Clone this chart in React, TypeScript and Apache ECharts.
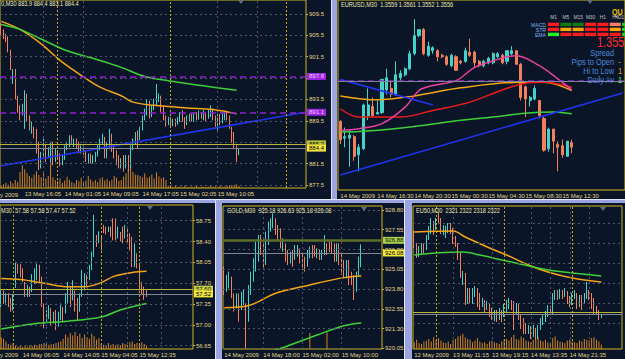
import React, { useEffect, useRef } from "react";
import * as echarts from "echarts";

const BG = "#0a1628";
const BULL = "#43d3c9";
const BEAR = "#f47f5c";
const AXIS = "#d4b41c";
const TXT = "#e6d38a";
const TITLE = "#efe6b4";
const GRIDC = "#4a5869";
const SEP = "#c9a61a";
const ORANGE = "#f5a516";
const GREEN = "#3fcf3a";
const PINK = "#e8409e";
const RED = "#ee1c1c";
const BLUE = "#2233ee";
const PURPLE = "#8c22cc";
const ASKC = "#b7b63a";
const BIDC = "#7f8792";
const VOLC = "#d6821e";
const FRAME = "#9ba4de";
const FRAME_HI = "#e2e5f8";
const FONT = "'Liberation Sans', Arial, sans-serif";
const FS = 6;

// ---------------- Panel 1 (top-left) ----------------
const p1Title = "0,M30 883.9 884.4 883.1 884.4";
const p1Bars = [
  [907.2, 906.0, 905.6, 907.8], [906.2, 905.3, 904.8, 906.6], [905.4, 904.6, 904.2, 905.8], [905.1, 902.6, 902.3, 905.3],
  [902.6, 899.5, 899.0, 902.8], [897.3, 898.9, 896.4, 899.2], [898.9, 893.9, 893.5, 899.2], [893.9, 891.5, 891.0, 894.2],
  [892.1, 890.2, 889.6, 892.4], [890.8, 892.1, 890.5, 892.7], [888.4, 894.6, 888.0, 895.2], [894.2, 889.6, 889.3, 894.6],
  [890.2, 888.0, 887.7, 890.5], [887.4, 889.0, 887.1, 889.3], [888.0, 886.5, 886.2, 888.4], [887.7, 884.6, 883.4, 888.0],
  [885.3, 880.9, 880.3, 885.6], [880.9, 883.4, 880.6, 883.7], [882.8, 885.3, 882.5, 886.2], [884.6, 882.2, 881.8, 885.0],
  [882.8, 884.3, 882.5, 884.6], [882.2, 885.3, 881.8, 885.6], [885.3, 881.5, 881.2, 885.6], [882.2, 884.0, 881.8, 884.3],
  [883.7, 882.5, 882.2, 884.0], [883.1, 881.4, 881.0, 883.4], [881.5, 882.8, 881.2, 883.1], [882.5, 884.6, 882.2, 884.9],
  [884.3, 885.3, 884.0, 885.6], [884.9, 886.5, 884.6, 886.8], [886.5, 885.3, 885.0, 886.8], [884.9, 885.9, 884.6, 886.2],
  [885.9, 884.6, 884.3, 886.2], [885.3, 883.7, 883.4, 885.6], [883.7, 884.6, 883.4, 884.9], [884.6, 883.4, 883.1, 884.9],
  [883.7, 882.2, 881.8, 884.0], [881.8, 883.1, 881.5, 883.4], [883.1, 881.8, 881.5, 883.4], [881.8, 882.8, 881.5, 883.1],
  [882.2, 883.4, 881.8, 883.7], [883.1, 884.6, 882.8, 884.9], [884.3, 885.9, 884.0, 886.2], [885.3, 886.8, 885.0, 887.1],
  [886.2, 882.8, 882.5, 886.5], [882.8, 885.3, 882.5, 885.6], [884.6, 886.8, 884.3, 888.0], [886.8, 884.0, 883.7, 887.1],
  [884.6, 882.8, 882.5, 884.9], [883.7, 881.5, 881.2, 884.0], [882.8, 880.9, 880.6, 883.1], [880.9, 882.2, 880.6, 882.5],
  [882.8, 880.6, 880.0, 883.1], [880.9, 882.8, 880.6, 883.1], [882.8, 880.9, 880.0, 883.1], [880.9, 884.6, 880.6, 884.9],
  [884.3, 885.9, 884.0, 886.2], [885.3, 887.1, 885.0, 887.4], [887.4, 884.6, 884.3, 887.7], [886.2, 888.0, 885.9, 888.4],
  [888.0, 890.2, 887.7, 890.5], [889.9, 891.5, 889.6, 891.8], [890.8, 892.7, 890.5, 893.6], [893.0, 890.2, 889.9, 893.3],
  [890.5, 892.1, 890.2, 892.4], [891.8, 893.3, 891.5, 893.6], [892.7, 893.9, 892.4, 896.4], [893.3, 894.2, 893.0, 894.6],
  [893.9, 891.5, 891.1, 894.2], [892.1, 889.9, 889.6, 892.4], [890.2, 888.7, 888.4, 890.5], [889.0, 889.9, 888.7, 890.2],
  [889.9, 888.7, 888.4, 890.2], [888.8, 889.6, 888.5, 889.9], [889.6, 888.7, 888.4, 889.9], [889.1, 889.9, 888.8, 890.2],
  [889.6, 890.8, 889.3, 891.1], [891.1, 889.6, 889.3, 891.5], [889.9, 888.4, 888.0, 890.2], [889.0, 890.2, 888.7, 890.5],
  [889.7, 890.5, 889.4, 890.8], [890.5, 889.6, 889.3, 890.8], [889.6, 890.8, 889.3, 891.1], [890.8, 889.9, 889.6, 891.1],
  [890.0, 890.8, 889.7, 891.4], [890.8, 890.2, 889.9, 891.1], [889.9, 891.1, 889.6, 891.5], [890.8, 889.6, 889.3, 891.1],
  [890.2, 891.1, 889.9, 891.5], [890.5, 891.8, 890.2, 892.4], [891.5, 889.9, 889.6, 891.8], [890.2, 888.7, 888.4, 890.5],
  [888.0, 890.5, 887.7, 890.8], [890.5, 889.0, 888.7, 890.8], [889.3, 890.8, 889.0, 891.1], [889.9, 891.1, 889.6, 891.4],
  [891.1, 889.9, 889.6, 891.4], [890.2, 888.4, 888.0, 890.5], [888.0, 885.9, 885.3, 888.4], [887.1, 884.6, 884.3, 887.4],
  [884.6, 882.8, 881.8, 884.9], [883.9, 884.4, 883.1, 884.4],
];
const p1Vol = [
  10, 14, 20, 12, 25, 18, 30, 22,
  60, 85, 70, 55,
  45, 38, 50, 62, 48, 40, 55, 35, 45, 100,
  40, 30, 25, 35, 20, 28, 42, 30, 22, 18,
  30, 25, 38, 20, 28, 45, 32, 24, 30, 22,
  35, 40, 28, 33, 25, 30, 45, 38, 26, 30, 42,
  55, 70, 85, 60, 50, 48,
  45, 40, 55, 38, 42, 50, 35, 58, 44, 36, 40, 30,
  8, 6, 5, 7, 4, 6, 5, 8, 5, 4, 6, 5, 7, 4, 5, 6, 4, 5, 7, 5, 6, 4, 8, 5, 6, 7, 9,
  10, 12, 14, 8,
];
const p1MaOrange = [[0, 908.1], [8, 906.6], [17, 903.9], [25, 900.8], [34, 898.0], [42, 895.8], [51, 894.2], [56, 893.0], [65, 892.4], [79, 891.9], [90, 891.6], [100, 890.8]];
const p1MaGreen = [[0, 907.5], [8, 906.6], [17, 904.8], [28, 902.6], [42, 900.8], [51, 899.5], [61, 897.8], [71, 897.0], [85, 896.1], [100, 895.2]];
const p1Trend = [[0, 881.1], [129, 891.1]];
const p1Ticks = [877.5, 881.5, 885.5, 889.5, 893.5, 897.5, 901.5, 905.5, 909.5];
const p1TickLabels = [877.5, 881.5, 889.5, 893.5, 901.5, 905.5, 909.5];
const p1TimeIdx = [10, 27, 43, 60, 76, 92];
const p1TimeLabels = ["13 May 16:05", "14 May 01:05", "14 May 09:05", "14 May 17:05", "15 May 02:05", "15 May 10:05"];
const p1GridX = [18, 35, 92, 109];
const p1SepX = [24, 72, 121];
const p1Purple = [897.8, 891.1];
const p1Ask = 885.2;
const p1Bid = 884.4;

// ---------------- Panel 2 (EURUSD) ----------------
const p2Title = "EURUSD,M30  1.3559 1.3561 1.3552 1.3556";
const p2Bars = [
  [1.3573, 1.3561, 1.3558, 1.3574], [1.3562, 1.3563, 1.3556, 1.3569], [1.3562, 1.3564, 1.3543, 1.3568], [1.3563, 1.3550, 1.3547, 1.3564],
  [1.3551, 1.3556, 1.3540, 1.3558], [1.3555, 1.3584, 1.3554, 1.3585], [1.3577, 1.3584, 1.3574, 1.3595], [1.3583, 1.3577, 1.3576, 1.3589],
  [1.3578, 1.3579, 1.3578, 1.3588], [1.3579, 1.3601, 1.3578, 1.3601], [1.3594, 1.3602, 1.3591, 1.3608], [1.3595, 1.3591, 1.3589, 1.3600],
  [1.3591, 1.3604, 1.3590, 1.3613], [1.3602, 1.3605, 1.3600, 1.3607], [1.3604, 1.3608, 1.3603, 1.3609], [1.3608, 1.3618, 1.3607, 1.3620],
  [1.3618, 1.3630, 1.3617, 1.3641], [1.3630, 1.3634, 1.3629, 1.3634], [1.3634, 1.3618, 1.3617, 1.3635], [1.3617, 1.3623, 1.3616, 1.3626],
  [1.3620, 1.3622, 1.3618, 1.3623], [1.3620, 1.3616, 1.3613, 1.3621], [1.3617, 1.3616, 1.3615, 1.3618], [1.3616, 1.3611, 1.3610, 1.3617],
  [1.3610, 1.3617, 1.3609, 1.3618], [1.3616, 1.3607, 1.3607, 1.3617], [1.3613, 1.3612, 1.3611, 1.3614], [1.3613, 1.3620, 1.3612, 1.3622],
  [1.3619, 1.3617, 1.3616, 1.3628], [1.3619, 1.3612, 1.3609, 1.3620], [1.3613, 1.3610, 1.3609, 1.3614], [1.3610, 1.3613, 1.3609, 1.3614],
  [1.3612, 1.3615, 1.3611, 1.3616], [1.3612, 1.3618, 1.3611, 1.3619], [1.3616, 1.3618, 1.3615, 1.3619], [1.3617, 1.3612, 1.3611, 1.3618],
  [1.3613, 1.3620, 1.3611, 1.3620], [1.3618, 1.3620, 1.3617, 1.3623], [1.3620, 1.3611, 1.3611, 1.3620], [1.3611, 1.3589, 1.3587, 1.3612],
  [1.3596, 1.3588, 1.3576, 1.3597], [1.3587, 1.3589, 1.3583, 1.3590], [1.3588, 1.3595, 1.3587, 1.3597], [1.3587, 1.3577, 1.3575, 1.3587],
  [1.3575, 1.3554, 1.3553, 1.3577], [1.3555, 1.3568, 1.3553, 1.3569], [1.3568, 1.3560, 1.3552, 1.3568], [1.3558, 1.3556, 1.3540, 1.3560],
  [1.3557, 1.3551, 1.3549, 1.3561], [1.3550, 1.3560, 1.3550, 1.3560], [1.3559, 1.3556, 1.3552, 1.3561],
];
const p2MaOrange = [[0, 1.3590], [8, 1.35874], [16, 1.3590], [26, 1.35954], [39, 1.35991], [44, 1.35991], [50, 1.35936]];
const p2MaRed = [[0, 1.35815], [4, 1.3576], [13, 1.3576], [20, 1.35804], [28, 1.35859], [35, 1.3594], [40, 1.35984], [44, 1.35991], [50, 1.35958]];
const p2MaPink = [[0, 1.35672], [4, 1.35683], [9, 1.35716], [14, 1.35826], [17, 1.35936], [20, 1.35969], [25, 1.36002], [29, 1.3609], [32, 1.36123], [36, 1.3616], [38, 1.36167], [43, 1.36101], [47, 1.36013], [50, 1.3594]];
const p2MaGreen = [[0, 1.35661], [6, 1.35668], [16, 1.35698], [26, 1.35738], [33, 1.3576], [40, 1.35786], [46, 1.35793], [50, 1.35782]];
const p2Trend1 = [[0, 1.3601], [20, 1.3584]];
const p2Trend2 = [[0, 1.35375], [61, 1.3592]];
const p2TimeIdx = [0, 8, 16, 24, 32, 40, 48];
const p2TimeLabels = ["14 May 2009", "14 May 16:30", "14 May 20:30", "15 May 00:30", "15 May 04:30", "15 May 08:30", "15 May 12:30"];
const p2Purple = [1.3561, 1.3537];
const p2Ask = 1.3558;
const p2Bid = 1.35562;

// ---------------- Panel 3 (bottom-left) ----------------
const p3Title = "M30  57.58 57.58 57.47 57.52";
const p3Bars = [
  [57.33, 57.55, 57.30, 57.58], [57.55, 57.39, 57.35, 57.58], [57.39, 57.50, 57.36, 57.53], [57.50, 57.33, 57.30, 57.53],
  [57.42, 57.25, 57.22, 57.45], [57.27, 57.50, 57.24, 57.52], [57.67, 58.00, 57.62, 58.06], [58.00, 57.89, 57.86, 58.03],
  [57.98, 57.84, 57.80, 58.02], [57.92, 57.75, 57.72, 57.95], [57.69, 57.50, 57.47, 57.72], [57.50, 57.64, 57.47, 57.67],
  [57.61, 57.50, 57.47, 57.64], [57.58, 57.78, 57.55, 57.85], [57.72, 57.84, 57.69, 57.95], [57.78, 57.92, 57.75, 58.03],
  [57.98, 57.75, 57.72, 58.01], [57.78, 57.33, 57.30, 57.81], [57.33, 57.08, 56.94, 57.36], [57.05, 57.22, 57.02, 57.25],
  [57.13, 57.30, 57.10, 57.33], [57.25, 57.02, 56.99, 57.28], [57.05, 57.19, 57.02, 57.22], [57.22, 56.97, 56.91, 57.25],
  [57.00, 57.19, 56.97, 57.22], [57.11, 57.33, 57.08, 57.36], [57.27, 57.08, 57.05, 57.30], [57.22, 57.50, 57.19, 57.53],
  [57.39, 57.67, 57.36, 57.72], [57.61, 57.33, 57.30, 57.64], [57.44, 57.72, 57.41, 57.75], [57.55, 57.25, 57.22, 57.58],
  [57.42, 57.11, 57.08, 57.45], [57.25, 57.50, 57.22, 57.53], [57.50, 57.72, 57.47, 57.92], [57.61, 57.84, 57.58, 57.87],
  [57.81, 57.67, 57.64, 57.84], [57.78, 57.98, 57.75, 58.01], [57.95, 58.20, 57.92, 58.23], [58.17, 58.45, 58.14, 58.85],
  [58.48, 58.34, 58.31, 58.51], [58.40, 58.54, 58.37, 58.57], [58.48, 58.28, 58.25, 58.51], [58.65, 58.56, 58.54, 58.68],
  [58.62, 58.55, 58.52, 58.65], [58.59, 58.62, 58.56, 58.65], [58.62, 58.51, 58.48, 58.65], [58.56, 58.45, 58.42, 58.79],
  [58.54, 58.45, 58.42, 58.79], [58.48, 58.62, 58.45, 58.65], [58.54, 58.42, 58.40, 58.56], [58.62, 58.40, 58.37, 58.65],
  [58.48, 58.65, 58.45, 58.68], [58.62, 58.40, 58.37, 58.65], [58.51, 58.28, 58.25, 58.54], [58.45, 58.00, 57.97, 58.48],
  [58.00, 58.34, 57.97, 58.37], [58.17, 57.98, 57.95, 58.20], [58.00, 57.61, 57.58, 58.03], [57.69, 57.55, 57.50, 57.72],
  [57.61, 57.47, 57.42, 57.64], [57.58, 57.52, 57.47, 57.58],
];
const p3Vol = [
  70, 60, 45, 30, 25, 35,
  20, 15, 18, 12, 20, 15, 22, 18, 25, 20, 28, 30,
  35, 30, 25, 28, 30, 35, 40, 45,
  60, 85, 70, 95, 80, 100, 75, 90, 65, 85, 70, 60, 90, 75, 55, 65,
  30, 25, 20, 35, 25, 30, 20, 28, 22, 35, 30, 25, 40, 45, 30, 35, 25, 40, 30, 20,
];
const p3MaOrange = [[0, 57.78], [8, 57.76], [18, 57.70], [28, 57.64], [35, 57.64], [42, 57.71], [47, 57.81], [55, 57.88], [61, 57.90]];
const p3MaGreen = [[0, 56.93], [14, 57.02], [28, 57.06], [42, 57.13], [50, 57.25], [61, 57.36]];
const p3Ticks = [56.65, 57.0, 57.35, 57.7, 58.05, 58.4, 58.75];
const p3TimeIdx = [9, 26, 42, 58];
const p3TimeLabels = ["14 May 06:05", "14 May 14:05", "15 May 04:05", "15 May 12:35"];
const p3GridX = [19, 36, 53, 67];
const p3SepX = [5, 42, 58];
const p3Ask = 57.6;
const p3Bid = 57.52;

// ---------------- Panel 4 (GOLD) ----------------
const p4Title = "GOLD,M30  925.18 926.63 925.18 926.08";
const p4Bars = [
  [925.11, 923.84, 923.42, 925.21], [923.84, 924.48, 923.63, 924.69], [924.05, 924.69, 923.84, 924.90], [924.48, 923.42, 923.21, 924.58],
  [923.42, 922.58, 922.37, 923.52], [922.79, 923.42, 922.58, 923.52], [923.42, 922.58, 921.73, 923.52], [922.68, 923.42, 922.47, 923.63],
  [923.00, 923.63, 922.79, 923.74], [922.79, 921.73, 920.04, 922.90], [921.94, 923.84, 921.73, 924.05], [923.63, 924.69, 923.42, 924.90],
  [924.48, 925.53, 924.26, 925.74], [925.11, 926.58, 924.90, 926.80], [925.74, 926.80, 925.53, 927.22], [927.01, 926.16, 925.95, 927.22],
  [926.58, 925.32, 925.00, 926.69], [925.53, 927.22, 925.32, 927.43], [926.80, 927.85, 926.58, 928.06], [927.64, 928.06, 927.43, 928.27],
  [927.85, 928.27, 927.64, 928.59], [928.06, 927.43, 927.22, 928.27], [927.75, 927.01, 926.80, 927.85], [927.43, 926.58, 926.37, 927.64],
  [926.27, 926.80, 926.16, 927.01], [926.58, 925.74, 925.53, 926.69], [926.16, 925.53, 925.32, 926.27], [925.53, 926.06, 925.42, 926.16],
  [926.16, 925.64, 925.21, 926.27], [925.74, 926.37, 925.64, 926.58], [925.95, 926.48, 925.85, 926.58], [926.27, 925.53, 925.42, 926.37],
  [925.95, 925.21, 925.00, 926.06], [925.74, 925.00, 924.90, 925.85], [925.32, 926.16, 925.21, 926.27], [925.85, 926.37, 925.74, 926.48],
  [926.48, 925.85, 925.74, 926.58], [926.37, 925.95, 925.85, 926.58], [925.85, 926.27, 925.74, 926.37], [926.16, 925.74, 925.64, 926.27],
  [925.74, 926.16, 925.64, 926.27], [926.06, 926.58, 925.95, 927.22], [926.58, 926.06, 925.95, 926.69], [926.58, 926.27, 926.16, 926.80],
  [926.69, 926.16, 926.06, 926.80], [926.58, 925.64, 925.53, 926.69], [925.64, 926.58, 925.53, 926.69], [926.58, 925.42, 925.32, 926.69],
  [925.95, 924.90, 924.69, 926.06], [925.53, 924.69, 924.48, 925.64], [924.69, 925.53, 924.48, 925.64], [925.53, 924.16, 924.05, 925.64],
  [924.69, 924.26, 924.05, 924.90], [924.58, 924.05, 923.10, 924.69], [924.05, 924.69, 923.63, 924.90], [924.69, 925.74, 924.58, 925.85],
  [925.18, 926.08, 925.18, 926.63],
];
const p4Vol = [
  0, 0, 0, 0, 0, 0, 0, 0, 0, 0, 0, 0, 0, 0, 0, 0, 0, 0, 0, 0,
  0, 0, 0, 0, 0, 0, 0, 0, 0, 0, 0, 0, 0, 0, 0, 95, 0, 0, 0, 0,
  0, 0, 100, 0, 0, 0, 0, 0, 0, 0, 0, 0, 0, 0, 0, 0, 0,
];
const p4MaOrange = [[0, 922.62], [10, 922.75], [21, 923.53], [35, 924.06], [49, 924.52], [56, 924.63]];
const p4MaGreen = [[20, 919.9], [23, 920.04], [38, 920.89], [49, 921.48], [56, 921.65]];
const p4Ticks = [920.05, 921.3, 922.55, 923.8, 925.05, 926.3, 927.55, 928.8];
const p4TimeIdx = [0, 16, 32, 48];
const p4TimeLabels = ["14 May 2009", "14 May 18:00", "15 May 02:00", "15 May 10:00"];
const p4GridX = [16, 32, 48];
const p4Ask = 926.88;
const p4Bid = 926.08;

// ---------------- Panel 5 (EU50) ----------------
const p5Title = "EU50,M30  2321 2322 2318 2322";
const p5Bars = [
  [2403, 2391, 2388, 2406], [2391, 2381, 2378, 2393], [2381, 2388, 2379, 2390], [2384, 2391, 2382, 2393],
  [2391, 2384, 2382, 2393], [2388, 2399, 2386, 2401], [2398, 2408, 2396, 2410], [2404, 2413, 2402, 2418],
  [2413, 2404, 2401, 2415], [2408, 2416, 2406, 2418], [2421, 2414, 2412, 2423], [2416, 2404, 2402, 2418],
  [2404, 2409, 2401, 2411], [2401, 2408, 2398, 2410], [2406, 2411, 2403, 2413], [2411, 2404, 2402, 2413],
  [2406, 2394, 2392, 2408], [2398, 2391, 2389, 2400], [2391, 2378, 2376, 2393], [2381, 2361, 2358, 2383],
  [2354, 2363, 2351, 2365], [2361, 2334, 2331, 2363], [2334, 2346, 2332, 2348], [2346, 2336, 2333, 2348],
  [2334, 2346, 2332, 2348], [2341, 2348, 2339, 2350], [2346, 2331, 2329, 2348], [2341, 2328, 2326, 2343],
  [2331, 2336, 2329, 2338], [2334, 2326, 2324, 2336], [2328, 2333, 2326, 2335], [2331, 2321, 2319, 2333],
  [2326, 2318, 2316, 2328], [2318, 2324, 2315, 2326], [2324, 2316, 2314, 2326], [2318, 2326, 2316, 2328],
  [2324, 2316, 2314, 2326], [2321, 2331, 2319, 2333], [2326, 2334, 2324, 2336], [2329, 2336, 2327, 2338],
  [2334, 2328, 2326, 2336], [2333, 2309, 2306, 2335], [2324, 2331, 2322, 2333], [2331, 2318, 2316, 2333],
  [2319, 2309, 2307, 2321], [2316, 2304, 2302, 2318], [2311, 2304, 2302, 2313], [2304, 2309, 2302, 2311],
  [2308, 2299, 2297, 2310], [2301, 2309, 2299, 2311], [2306, 2298, 2296, 2308], [2299, 2309, 2297, 2311],
  [2308, 2316, 2306, 2318], [2313, 2319, 2311, 2321], [2316, 2323, 2314, 2325], [2321, 2329, 2319, 2331],
  [2328, 2323, 2321, 2330], [2324, 2341, 2322, 2343], [2338, 2344, 2336, 2346], [2344, 2338, 2336, 2346],
  [2339, 2345, 2337, 2347], [2344, 2339, 2337, 2346], [2341, 2346, 2339, 2348], [2343, 2334, 2332, 2345],
  [2338, 2331, 2329, 2340], [2333, 2341, 2331, 2343], [2339, 2344, 2337, 2346], [2341, 2329, 2327, 2343],
  [2331, 2339, 2329, 2341], [2339, 2328, 2326, 2341], [2334, 2341, 2332, 2343], [2339, 2346, 2337, 2354],
  [2344, 2338, 2336, 2346], [2341, 2329, 2327, 2343], [2336, 2324, 2322, 2338], [2328, 2323, 2321, 2330],
  [2324, 2318, 2316, 2326], [2321, 2322, 2318, 2322],
];
const p5Vol = [
  40, 55, 35, 30, 45, 50, 60, 45, 70, 55,
  65, 50, 40, 35, 45, 30, 55, 60, 75, 80,
  90, 70, 60, 55, 40, 50, 65, 45, 35, 40,
  30, 45, 50, 40, 35, 30, 45, 55, 60, 50,
  70, 85, 60, 55, 75, 65, 50, 45, 40, 55,
  60, 70, 50, 45, 55, 40, 35, 65, 75, 50,
  45, 40, 35, 50, 55, 45, 40, 35, 50, 45,
  60, 55, 50, 65, 70, 55, 45, 25,
];
const p5MaOrange = [[0, 2404], [16, 2405], [21, 2399], [31, 2388], [38, 2381], [47, 2371], [55, 2364], [65, 2358], [77, 2354]];
const p5MaGreen = [[0, 2381], [9, 2383], [20, 2384], [27, 2381], [38, 2375], [49, 2369], [58, 2365], [77, 2360]];
const p5GridY = [2313, 2333, 2353, 2373, 2393, 2413];
const p5TimeIdx = [0, 16, 32, 48, 64];
const p5TimeLabels = ["12 May 2009", "13 May 11:15", "13 May 19:15", "14 May 13:35", "14 May 21:35"];
const p5GridX = [16, 32, 48, 56, 64, 72];
const p5SepX = [9, 37, 65];
const p5Ask = 2324;
const p5Bid = 2322;

// ---------------- Info block (top right) ----------------
const infoCols = ["M1", "M5", "M15", "M30", "H1", "H4", "D1"];
const infoRows = ["MACD", "STR", "EMA"];
const infoColors = [
  ["#ff1c1c", "#0e7d14", "#0e7d14", "#ff1c1c", "#ff1c1c", "#ff8068", "#22d322"],
  ["#ff1c1c", "#ffa400", "#ffa400", "#ff1c1c", "#ff1c1c", "#ffa400", "#22d322"],
  ["#2af22a", "#ff1c1c", "#ff1c1c", "#ff1c1c", "#ff1c1c", "#ff1c1c", "#22d322"],
];
const infoLabels = ["Spread", "Pips to Open", "Hi to Low", "Daily Av"];
const infoValues = ["", "-", "1", "1"];
const infoValueColors = ["#ff9900", "#ff9900", "#ff9900", "#3cff3c"];

type Level = { v: number; color: string; width: number; type: any; text?: string; bg?: string; fg?: string };

function purpleLevels(vals: number[], labels: boolean, digits: number): Level[] {
  return vals.map((v) => ({
    v, color: PURPLE, width: 1.5, type: [6, 4],
    text: labels ? v.toFixed(digits) : undefined, bg: "#9b27e0", fg: "#f0c8ff",
  }));
}

const panels: any[] = [
  {
    rect: { left: -1, top: -1, width: 307, height: 189 }, slots: 130, bars: p1Bars, barWidth: 1.1,
    yMin: 876.94, yMax: 912.1, ticks: p1Ticks, tickLabels: p1TickLabels, digits: 1, timeIdx: p1TimeIdx, timeLabels: p1TimeLabels,
    gridX: p1GridX, sepX: p1SepX, gridY: p1Ticks,
    lines: [{ d: p1MaOrange, c: ORANGE, w: 1.5 }, { d: p1MaGreen, c: GREEN, w: 1.5 }, { d: p1Trend, c: BLUE, w: 1.6, straight: true }],
    levels: [
      ...purpleLevels(p1Purple, true, 1),
      { v: p1Ask, color: ASKC, width: 1, type: "solid", text: "885.3", bg: "#b9bd42", fg: "#202000" },
      { v: p1Bid, color: BIDC, width: 1, type: "solid", text: "884.4", bg: "#f2e640", fg: "#000000" },
    ],
    vol: p1Vol, volMax: 700,
  },
  {
    rect: { left: 338, top: -1, width: 300, height: 191 }, slots: 62, bars: p2Bars, barWidth: 2.6,
    yMin: 1.35276, yMax: 1.365366, timeIdx: p2TimeIdx, timeLabels: p2TimeLabels,
    gridX: [], sepX: [], gridY: [],
    lines: [
      { d: p2MaGreen, c: GREEN, w: 1.5 }, { d: p2MaOrange, c: ORANGE, w: 1.5 }, { d: p2MaRed, c: RED, w: 1.5 },
      { d: p2MaPink, c: PINK, w: 1.5 }, { d: p2Trend1, c: BLUE, w: 1.6, straight: true }, { d: p2Trend2, c: BLUE, w: 1.6, straight: true },
    ],
    levels: [
      ...purpleLevels(p2Purple, false, 4),
      { v: p2Ask, color: ASKC, width: 1, type: "solid" },
      { v: p2Bid, color: BIDC, width: 1, type: "solid" },
    ],
  },
  {
    rect: { left: -1, top: 205, width: 194, height: 144 }, slots: 81, bars: p3Bars, barWidth: 1.2,
    yMin: 56.594, yMax: 59.014, ticks: p3Ticks, tickLabels: p3Ticks, digits: 2, timeIdx: p3TimeIdx, timeLabels: p3TimeLabels,
    gridX: p3GridX, sepX: p3SepX, gridY: p3Ticks,
    lines: [{ d: p3MaOrange, c: ORANGE, w: 1.5 }, { d: p3MaGreen, c: GREEN, w: 1.5 }],
    levels: [
      { v: p3Ask, color: ASKC, width: 1, type: "solid", text: "57.60", bg: "#c8cf48", fg: "#202000" },
      { v: p3Bid, color: BIDC, width: 1, type: "solid", text: "57.52", bg: "#f2e640", fg: "#000000" },
    ],
    vol: p3Vol, volMax: 850,
  },
  {
    rect: { left: 223, top: 206, width: 159, height: 143 }, slots: 65, bars: p4Bars, barWidth: 1.2,
    yMin: 920.003, yMax: 929.053, ticks: p4Ticks, tickLabels: p4Ticks, digits: 2, timeIdx: p4TimeIdx, timeLabels: p4TimeLabels,
    gridX: p4GridX, sepX: [], gridY: p4Ticks,
    lines: [{ d: p4MaOrange, c: ORANGE, w: 1.5 }, { d: p4MaGreen, c: GREEN, w: 1.5 }],
    levels: [
      { v: p4Ask, color: "#5f6e28", width: 2.5, type: "solid", text: "926.88", bg: "#a6cc52", fg: "#102000" },
      { v: p4Bid, color: BIDC, width: 1, type: "solid", text: "926.08", bg: "#f2e640", fg: "#000000" },
    ],
    vol: p4Vol, volMax: 850,
  },
  {
    rect: { left: 413, top: 206, width: 209, height: 143 }, slots: 86, bars: p5Bars, barWidth: 1.2,
    yMin: 2287, yMax: 2430, timeIdx: p5TimeIdx, timeLabels: p5TimeLabels,
    gridX: p5GridX, sepX: p5SepX, gridY: p5GridY,
    lines: [{ d: p5MaOrange, c: ORANGE, w: 1.5 }, { d: p5MaGreen, c: GREEN, w: 1.5 }],
    levels: [
      { v: p5Ask, color: ASKC, width: 1, type: "solid" },
      { v: p5Bid, color: BIDC, width: 1, type: "solid" },
    ],
    vol: p5Vol, volMax: 850,
  },
];

function txt(text: string, x: number, y: number, fill: string, size = FS, align = "left", extra: any = {}, scaleX = 1) {
  return {
    type: "text", x, y, z: 60, silent: true, scaleX,
    style: { text, fill, fontSize: size, fontFamily: FONT, align, verticalAlign: "middle", ...extra },
  };
}

function buildOption() {
  const grid: any[] = [];
  const xAxis: any[] = [];
  const yAxis: any[] = [];
  const series: any[] = [];

  panels.forEach((p, i) => {
    grid.push({ ...p.rect, show: true, borderColor: AXIS, borderWidth: 1, backgroundColor: "transparent" });
    const labelMap = new Map<number, string>(p.timeIdx.map((k: number, j: number) => [k, p.timeLabels[j]]));
    xAxis.push({
      type: "category", gridIndex: i, boundaryGap: true,
      data: Array.from({ length: p.slots }, (_, k) => String(k)),
      axisLine: { show: false }, axisTick: { show: false }, splitLine: { show: false },
      axisLabel: {
        show: true, interval: (k: number) => labelMap.has(k),
        formatter: (_v: string, k: number) => labelMap.get(k) ?? "",
        align: "left", margin: 3, color: TXT, fontSize: FS, fontFamily: FONT, hideOverlap: false,
      },
    });
    yAxis.push({
      type: "value", gridIndex: i, position: "right", min: p.yMin, max: p.yMax, scale: true,
      axisLine: { show: false }, splitLine: { show: false },
      axisTick: p.ticks ? { show: true, customValues: p.ticks, length: 2, lineStyle: { color: AXIS } } : { show: false },
      axisLabel: p.ticks
        ? { show: true, customValues: p.tickLabels, formatter: (v: number) => v.toFixed(p.digits), color: TXT, fontSize: FS, fontFamily: FONT, margin: 3 }
        : { show: false },
    });
  });

  panels.forEach((p, i) => {
    let volAxis = -1;
    if (p.vol) {
      volAxis = yAxis.length;
      yAxis.push({ type: "value", gridIndex: i, min: 0, max: p.volMax, show: false });
    }
    const thin = { color: GRIDC, type: [2, 3], width: 1 };
    const decor = [
      ...p.gridY.map((v: number) => ({ yAxis: v, lineStyle: thin })),
      ...p.gridX.map((k: number) => ({ xAxis: k, lineStyle: thin })),
      ...p.sepX.map((k: number) => ({ xAxis: k, lineStyle: { color: SEP, type: [2, 2], width: 1 } })),
    ];
    series.push({
      type: "line", xAxisIndex: i, yAxisIndex: i, data: [], z: 1, silent: true,
      markLine: { silent: true, symbol: ["none", "none"], label: { show: false }, animation: false, data: decor },
    });
    if (p.vol) {
      series.push({
        type: "bar", xAxisIndex: i, yAxisIndex: volAxis, data: p.vol, barWidth: 1, z: 2, silent: true,
        itemStyle: { color: VOLC },
      });
    }
    series.push({
      type: "candlestick", xAxisIndex: i, yAxisIndex: i, data: p.bars, barWidth: p.barWidth, z: 3, silent: true,
      itemStyle: { color: BULL, color0: BEAR, borderColor: BULL, borderColor0: BEAR, borderWidth: 1 },
    });
    p.lines.forEach((l: any) => {
      series.push({
        type: "line", xAxisIndex: i, yAxisIndex: i, data: l.d, smooth: l.straight ? false : 0.35,
        showSymbol: false, silent: true, z: 4, lineStyle: { color: l.c, width: l.w },
      });
    });
    const lv = p.levels.map((l: Level) => ({
      yAxis: l.v,
      lineStyle: { color: l.color, width: l.width, type: l.type },
      label: l.text
        ? {
            show: true, position: "end", formatter: l.text, color: l.fg, backgroundColor: l.bg,
            padding: [1, 2, 0, 2], fontSize: FS, fontFamily: FONT, distance: 1,
          }
        : { show: false },
    }));
    series.push({
      type: "line", xAxisIndex: i, yAxisIndex: i, data: [], z: 5, clip: false, silent: true,
      markLine: { silent: true, symbol: ["none", "none"], animation: false, data: lv },
    });
  });

  const graphic: any[] = [];
  // window frames
  graphic.push({ type: "rect", z: 100, silent: true, shape: { x: 0, y: 199, width: 625, height: 4 }, style: { fill: FRAME } });
  graphic.push({ type: "line", z: 101, silent: true, shape: { x1: 0, y1: 199.5, x2: 625, y2: 199.5 }, style: { stroke: FRAME_HI, lineWidth: 1 } });
  graphic.push({ type: "rect", z: 100, silent: true, shape: { x: 331, y: 0, width: 6, height: 203 }, style: { fill: FRAME } });
  graphic.push({ type: "line", z: 101, silent: true, shape: { x1: 331.5, y1: 0, x2: 331.5, y2: 199 }, style: { stroke: FRAME_HI, lineWidth: 1 } });
  graphic.push({ type: "rect", z: 100, silent: true, shape: { x: 215, y: 199, width: 7, height: 160 }, style: { fill: FRAME } });
  graphic.push({ type: "line", z: 101, silent: true, shape: { x1: 215.5, y1: 200, x2: 215.5, y2: 359 }, style: { stroke: FRAME_HI, lineWidth: 1 } });
  graphic.push({ type: "rect", z: 100, silent: true, shape: { x: 404, y: 199, width: 8, height: 160 }, style: { fill: FRAME } });
  graphic.push({ type: "line", z: 101, silent: true, shape: { x1: 404.5, y1: 200, x2: 404.5, y2: 359 }, style: { stroke: FRAME_HI, lineWidth: 1 } });

  // chart-shift markers
  [[241, 0], [590, 0], [150, 206], [364, 207], [603, 207]].forEach(([x, y]) => {
    graphic.push({ type: "polygon", z: 60, silent: true, shape: { points: [[x - 3, y], [x + 3, y], [x, y + 4]] }, style: { fill: "#5f6f7a" } });
  });

  // titles
  graphic.push(txt(p1Title, 1, 3.5, TITLE, 7, "left", {}, 0.8));
  graphic.push(txt(p2Title, 341, 4.5, TITLE, 7, "left", {}, 0.8));
  graphic.push(txt(p3Title, 1, 210.5, TITLE, 7, "left", {}, 0.8));
  graphic.push(txt(p4Title, 227, 210.5, TITLE, 7, "left", {}, 0.8));
  graphic.push(txt(p5Title, 416, 210.5, TITLE, 7, "left", {}, 0.8));
  graphic.push(txt("y 2009", 0, 194.5, TXT, FS));
  graphic.push(txt("y 2009", 0, 355, TXT, FS));

  // info block
  graphic.push(txt("QU", 612, 12.5, "#e8c000", 9, "left", { fontWeight: "bold" }, 0.8));
  infoCols.forEach((c, k) => {
    const cx = k === infoCols.length - 1 ? 621 : 548 + 12.35 * k + 5.5;
    graphic.push(txt(c, cx, 17, "#c0c0c8", 6, "center", {}, 0.8));
  });
  infoRows.forEach((r, ri) => {
    graphic.push(txt(r, 546, 24.4 + 5 * ri, "#7fb2f0", 6, "right", {}, 0.85));
    infoColors[ri].forEach((col, k) => {
      graphic.push({ type: "rect", z: 60, silent: true, shape: { x: 548 + 12.35 * k, y: 22.7 + 5 * ri, width: 11, height: 3.4 }, style: { fill: col } });
    });
  });
  graphic.push(txt("1.355", 597, 43, "#ff2a2a", 14, "left", {}, 0.78));
  infoLabels.forEach((l, k) => {
    graphic.push(txt(l, 614, 53.5 + 9 * k, "#4f86d6", 9, "right", {}, 0.82));
    if (infoValues[k]) graphic.push(txt(infoValues[k], 618, 53.5 + 9 * k, infoValueColors[k], 9, "left", {}, 0.82));
  });

  return {
    backgroundColor: BG,
    animation: false,
    grid, xAxis, yAxis, series, graphic,
  };
}

export default function App() {
  const ref = useRef<HTMLDivElement>(null);
  useEffect(() => {
    if (!ref.current) return;
    const chart = echarts.init(ref.current, null, { renderer: "svg" });
    chart.setOption(buildOption() as any);
    return () => chart.dispose();
  }, []);
  return <div ref={ref} style={{ position: "fixed", left: 0, top: 0, width: 625, height: 359, background: BG }} />;
}
